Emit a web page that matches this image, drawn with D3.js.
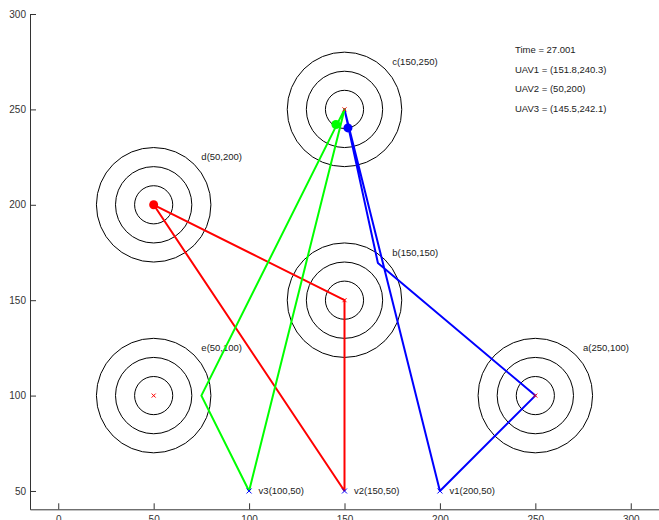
<!DOCTYPE html>
<html>
<head>
<meta charset="utf-8">
<script src="https://cdn.jsdelivr.net/npm/d3@7"></script>
<style>
  body { margin: 0; background: #fff; }
  svg { display: block; font-family: "Liberation Sans", Arial, sans-serif; }
</style>
</head>
<body>
<svg id="chart" width="659" height="520"></svg>
<script>
// targets
var targetNames = ["a", "b", "c", "d", "e"];
var targetX = [250, 150, 150, 50, 50];
var targetY = [100, 150, 250, 200, 100];
var ringRadii = [10, 20, 30];

// bases
var baseNames = ["v1", "v2", "v3"];
var baseX = [200, 150, 100];
var baseY = [50, 50, 50];

// UAV trajectories
var uav1X = [200, 250, 167.5, 150, 200];
var uav1Y = [50, 100, 169.5, 250, 50];
var uav2X = [150, 150, 50, 150];
var uav2Y = [50, 150, 200, 50];
var uav3X = [100, 75, 150, 100];
var uav3Y = [50, 100, 250, 50];

// current positions
var uavPosX = [151.8, 50, 145.5];
var uavPosY = [240.3, 200, 242.1];
var uavColors = ["#0000ff", "#ff0000", "#00ff00"];

var timeValue = "27.001";

var xTicks = [0, 50, 100, 150, 200, 250, 300];
var yTicks = [50, 100, 150, 200, 250, 300];

var svg = d3.select("#chart");

var x = d3.scaleLinear().domain([-14.8, 314.8]).range([30, 659]);
var y = d3.scaleLinear().domain([40.4, 300]).range([509.3, 14]);
var k = x(1) - x(0); // px per unit

// axes
var gx = svg.append("g")
    .attr("transform", "translate(0," + y(40.4) + ")")
    .call(d3.axisBottom(x).tickValues(xTicks).tickSize(-6).tickSizeOuter(0).tickPadding(7));
var gy = svg.append("g")
    .attr("transform", "translate(" + x(-14.8) + ",0)")
    .call(d3.axisLeft(y).tickValues(yTicks).tickSize(-6).tickSizeOuter(0).tickPadding(4));
[gx, gy].forEach(function (g) {
    g.selectAll("path, line").attr("stroke", "#333");
    g.selectAll("text").attr("fill", "#333").style("font-size", "10px");
});

// target rings
var targets = targetNames.map(function (n, i) { return { name: n, x: targetX[i], y: targetY[i] }; });
targets.forEach(function (t) {
    ringRadii.forEach(function (r) {
        svg.append("circle")
            .attr("cx", x(t.x)).attr("cy", y(t.y))
            .attr("r", r * k)
            .attr("fill", "none").attr("stroke", "#000").attr("stroke-width", 1);
    });
    svg.append("text")
        .attr("x", x(t.x + 25)).attr("y", y(t.y + 25))
        .attr("dy", "0.35em")
        .style("font-size", "9.5px").attr("fill", "#222")
        .text(t.name + "(" + t.x + "," + t.y + ")");
});

// trajectories
var line = d3.line().x(function (d) { return x(d[0]); }).y(function (d) { return y(d[1]); });
var trajX = [uav1X, uav2X, uav3X];
var trajY = [uav1Y, uav2Y, uav3Y];
trajX.forEach(function (xs, i) {
    var pts = xs.map(function (v, j) { return [v, trajY[i][j]]; });
    svg.append("path")
        .attr("d", line(pts))
        .attr("fill", "none")
        .attr("stroke", uavColors[i])
        .attr("stroke-width", 2)
        .attr("stroke-linejoin", "round");
});

// x markers
function cross(cx, cy, color, s) {
    svg.append("path")
        .attr("d", "M" + (cx - s) + "," + (cy - s) + "L" + (cx + s) + "," + (cy + s) +
                   "M" + (cx - s) + "," + (cy + s) + "L" + (cx + s) + "," + (cy - s))
        .attr("stroke", color).attr("stroke-width", 1);
}
targets.forEach(function (t) { cross(x(t.x), y(t.y), "#ff0000", 2); });

baseNames.forEach(function (n, i) {
    cross(x(baseX[i]), y(baseY[i]), "#0000ff", 2.5);
    svg.append("text")
        .attr("x", x(baseX[i] + 5)).attr("y", y(baseY[i]))
        .attr("dy", "0.35em")
        .style("font-size", "9.5px").attr("fill", "#222")
        .text(n + "(" + baseX[i] + "," + baseY[i] + ")");
});

// current positions
uavPosX.forEach(function (v, i) {
    svg.append("circle")
        .attr("cx", x(v)).attr("cy", y(uavPosY[i]))
        .attr("r", 4.5)
        .attr("fill", uavColors[i]);
});

// info text
var info = ["Time = " + timeValue].concat(uavPosX.map(function (v, i) {
    return "UAV" + (i + 1) + " = (" + v + "," + uavPosY[i] + ")";
}));
svg.selectAll(".info").data(info).join("text")
    .attr("class", "info")
    .attr("x", 515)
    .attr("y", function (d, i) { return 50 + i * 19.4; })
    .attr("dy", "0.35em")
    .style("font-size", "9.5px").attr("fill", "#222")
    .text(function (d) { return d; });
</script>
</body>
</html>
